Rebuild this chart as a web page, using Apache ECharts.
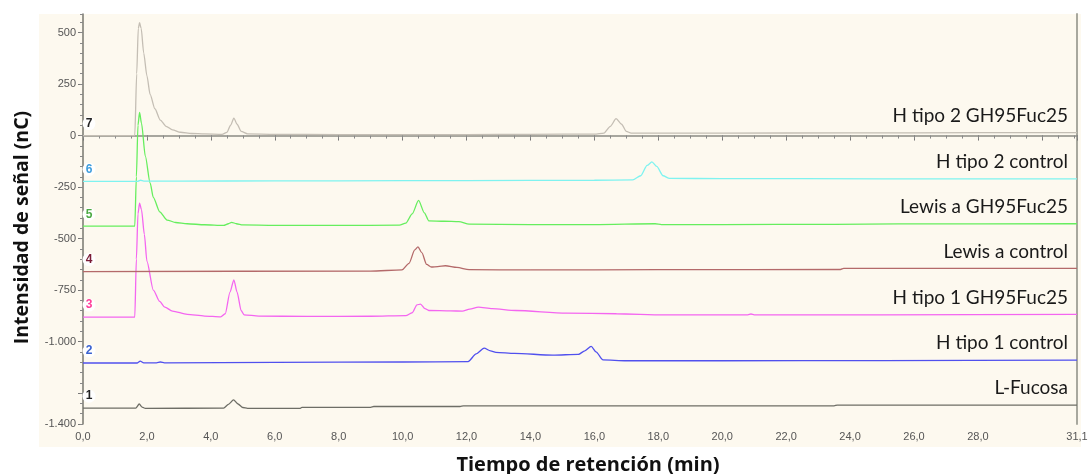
<!DOCTYPE html>
<html>
<head>
<meta charset="utf-8">
<script src="https://cdn.jsdelivr.net/npm/echarts@6/dist/echarts.min.js"></script>
<style>
html,body{margin:0;padding:0;background:#fff;}
#chart{width:1089px;height:474px;}
</style>
</head>
<body>
<div id="chart"></div>
<script>
// ---- Data (retention time in min, signal in nC) ----
var seriesNames = ["L-Fucosa","H tipo 1 control","H tipo 1 GH95Fuc25","Lewis a control","Lewis a GH95Fuc25","H tipo 2 control","H tipo 2 GH95Fuc25"];
var seriesNumbers = ["1","2","3","4","5","6","7"];

var fucosa = [[0,-1323],[1.65,-1323],[1.76,-1303],[1.85,-1318],[1.95,-1324],[4.4,-1323],[4.55,-1305],[4.71,-1283],[4.85,-1303],[5.0,-1320],[5.15,-1324],[6.8,-1324],[6.85,-1319],[9.0,-1319],[9.1,-1315],[11.8,-1315],[11.9,-1312],[23.5,-1312],[23.6,-1308],[31.1,-1308]];

var hTipo1Control = [[0,-1104],[1.7,-1104],[1.79,-1095],[1.9,-1103],[2.3,-1103],[2.42,-1099],[2.55,-1103],[6,-1101],[10,-1099],[12.05,-1097],[12.3,-1060],[12.55,-1032],[12.75,-1045],[12.92,-1052],[13.5,-1057],[14.7,-1066],[15.5,-1062],[15.7,-1045],[15.9,-1023],[16.05,-1050],[16.27,-1089],[17,-1093],[20,-1093],[25,-1092],[31.1,-1090]];

var hTipo1Gh95 = [[0,-881],[1.62,-881],[1.67,-600],[1.72,-380],[1.77,-328],[1.83,-360],[1.92,-480],[2.0,-610],[2.2,-750],[2.4,-805],[2.56,-833],[2.8,-852],[3.26,-868],[3.8,-876],[4.31,-880],[4.45,-865],[4.6,-760],[4.72,-700],[4.82,-760],[4.95,-850],[5.04,-870],[5.5,-876],[7,-878],[9,-877],[10.1,-874],[10.3,-860],[10.45,-822],[10.56,-818],[10.7,-840],[10.82,-849],[11.5,-851],[11.87,-852],[12.1,-842],[12.37,-833],[12.8,-840],[13.54,-849],[15.12,-862],[16.69,-865],[18.16,-870],[20.8,-870],[20.9,-866],[21.0,-870],[25,-870],[31.1,-868]];

var lewisControl = [[0,-660],[9.0,-658],[9.98,-652],[10.2,-620],[10.38,-555],[10.48,-540],[10.6,-568],[10.75,-625],[10.9,-638],[11.1,-636],[11.34,-632],[11.7,-640],[12.08,-651],[14,-652],[18,-651],[23.7,-650],[23.8,-645],[31.1,-645]];

var lewisGh95 = [[0,-440],[1.62,-440],[1.67,-200],[1.72,50],[1.77,112],[1.83,60],[1.95,-100],[2.1,-230],[2.2,-300],[2.4,-370],[2.63,-410],[2.9,-422],[3.26,-428],[3.8,-433],[4.4,-436],[4.55,-428],[4.65,-421],[4.8,-428],[5.0,-434],[6,-436],[8,-436],[9.9,-435],[10.1,-425],[10.3,-380],[10.5,-315],[10.68,-375],[10.82,-414],[11.3,-416],[11.76,-418],[12.08,-430],[14,-432],[16,-432],[17.9,-428],[18.1,-432],[20,-432],[23.5,-431],[25.5,-429],[31.1,-428]];

var hTipo2Control = [[0,-222],[1.7,-222],[1.8,-217],[1.9,-221],[3,-221],[6,-220],[10,-219],[14,-218],[16,-217],[17.2,-215],[17.45,-195],[17.65,-145],[17.8,-128],[17.95,-150],[18.15,-195],[18.35,-208],[20,-209],[25,-210],[31.1,-210]];

var hTipo2Gh95 = [[0,0],[1.62,0],[1.68,300],[1.73,520],[1.77,548],[1.82,520],[1.9,400],[2.0,290],[2.1,200],[2.25,130],[2.42,75],[2.6,45],[2.8,28],[3.05,16],[3.4,10],[3.8,8],[4.35,6],[4.5,15],[4.62,50],[4.72,85],[4.82,55],[4.95,20],[5.15,8],[6,6],[8,5],[10,5],[12,5],[14,6],[16.0,7],[16.3,12],[16.5,45],[16.68,82],[16.85,55],[17.0,20],[17.15,12],[18,12],[20,12],[24,13],[28,14],[31.1,14]];

var yTickLabels = [500,250,0,-250,-500,-750,-1000,-1400];
var yMajorTicks = [500,250,0,-250,-500,-750,-1000,-1250,-1400];
var xTickLabels = [0,2,4,6,8,10,12,14,16,18,20,22,24,26,28,31.1];
var xMajorTicks = [0,2,4,6,8,10,12,14,16,18,20,22,24,26,28,30,31.1];

// ---- styling ----
var seriesData = [fucosa,hTipo1Control,hTipo1Gh95,lewisControl,lewisGh95,hTipo2Control,hTipo2Gh95];
var lineColors = ["#6e6e66","#5050ee","#f466f0","#b46a6a","#66ee5e","#7ff3f0","#c4beb4"];
var numColors = ["#222222","#3a62d0","#ff3d9a","#7a1c36","#4caa44","#3e9ddd","#222222"];

function fmtY(v){
  var s = Math.abs(v).toString();
  if (Math.abs(v) >= 1000) s = s.slice(0, s.length-3) + "." + s.slice(s.length-3);
  return (v < 0 ? "-" : "") + s;
}
function fmtX(v){
  return (Math.round(v*10)/10).toFixed(1).replace(".", ",");
}

var series = seriesData.map(function(d, i){
  return {
    type: "line",
    name: seriesNames[i],
    data: d,
    xAxisIndex: 0,
    yAxisIndex: 0,
    showSymbol: false,
    symbol: "none",
    smooth: 0.25,
    smoothMonotone: "x",
    lineStyle: {color: lineColors[i], width: 1.3},
    z: 3 + i,
    animation: false,
    endLabel: {
      show: true,
      formatter: seriesNames[i],
      align: "right",
      verticalAlign: "middle",
      distance: 0,
      offset: [-9, -17],
      color: "#1a1a1a",
      fontFamily: "Lato",
      fontSize: 19
    },
    markPoint: {
      symbol: "circle",
      symbolSize: 13,
      symbolOffset: [6, -12],
      itemStyle: {color: "#ffffff"},
      label: {show: true, formatter: seriesNumbers[i], color: numColors[i], fontWeight: "bold", fontSize: 12, fontFamily: "Liberation Sans"},
      data: [{coord: [0, d[0][1]]}],
      animation: false
    }
  };
});

var chart = echarts.init(document.getElementById("chart"), null, {renderer: "canvas"});
chart.setOption({
  backgroundColor: "#ffffff",
  animation: false,
  graphic: [{
    type: "rect", z: -10, silent: true,
    shape: {x: 39, y: 14, width: 1042, height: 433},
    style: {fill: "#fdf9ef"}
  }],
  grid: {left: 83, right: 12, top: 14, bottom: 50, containLabel: false, outerBoundsMode: "none"},
  xAxis: [{
    type: "value", min: 0, max: 31.1, position: "bottom",
    name: "Tiempo de retención (min)", nameLocation: "middle", nameGap: 31,
    nameTextStyle: {fontFamily: "Open Sans", fontWeight: "bold", fontSize: 20, color: "#111", padding: [0, 0, 0, 16]},
    axisLine: {show: true, lineStyle: {color: "#8a8a84", width: 1.5}},
    axisTick: {show: true, length: 5, customValues: xMajorTicks, lineStyle: {color: "#777"}},
    axisLabel: {show: true, customValues: xTickLabels, formatter: fmtX, color: "#555", fontSize: 11, fontFamily: "Liberation Sans", margin: 7},
    splitLine: {show: false}
  },{
    type: "value", min: 0, max: 31.1, interval: 0.5, position: "bottom",
    axisLine: {show: false},
    axisTick: {show: true, length: 3, lineStyle: {color: "#888"}},
    axisLabel: {show: false},
    splitLine: {show: false}
  }],
  yAxis: [{
    type: "value", min: -1400, max: 590, position: "left",
    name: "Intensidad de señal (nC)", nameLocation: "middle", nameGap: 51,
    nameTextStyle: {fontFamily: "Open Sans", fontWeight: "bold", fontSize: 19.5, color: "#111", padding: [0, 17, 0, 0]},
    axisLine: {show: true, lineStyle: {color: "#77776f", width: 1.5}},
    axisTick: {show: true, length: 5, customValues: yMajorTicks, lineStyle: {color: "#777"}},
    axisLabel: {show: true, customValues: yTickLabels, formatter: fmtY, color: "#555", fontSize: 11, fontFamily: "Liberation Sans", margin: 7},
    splitLine: {show: false}
  },{
    type: "value", min: -1400, max: 590, interval: 50, position: "left",
    axisLine: {show: false},
    axisTick: {show: true, length: 3, lineStyle: {color: "#888"}},
    axisLabel: {show: false},
    splitLine: {show: false}
  },{
    type: "value", min: -1400, max: 590, position: "right",
    axisLine: {show: true, lineStyle: {color: "#a8a89e", width: 2}},
    axisTick: {show: false},
    axisLabel: {show: false},
    splitLine: {show: false}
  }],
  series: series
});
</script>
</body>
</html>
